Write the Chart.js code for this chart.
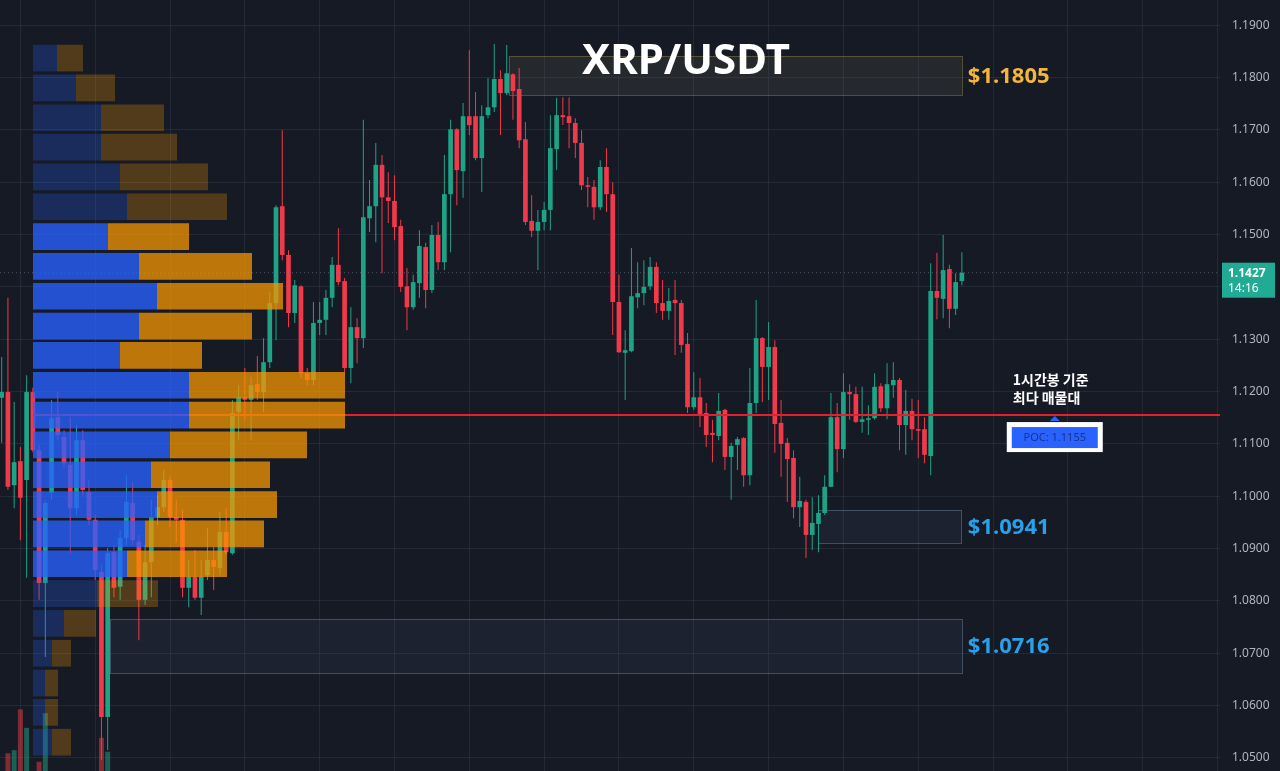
<!DOCTYPE html>
<html>
<head>
<meta charset="utf-8">
<script src="https://cdn.jsdelivr.net/npm/chart.js@4.4.1/dist/chart.umd.min.js"></script>
<style>
  html, body { margin: 0; padding: 0; background: #161a25; }
  #wrap { width: 1280px; height: 771px; }
</style>
</head>
<body>
<div id="wrap"><canvas id="myChart"></canvas></div>
<script>
// XRP/USDT 1h candles, oldest first
var opens = [
  1.1188, 1.1199, 1.1021, 1.1067, 1.1031, 1.1199, 1.1088, 1.0834, 1.1006, 1.1151,
  1.1113, 1.1060, 1.0977, 1.1107, 1.1008, 1.0955, 1.0855, 1.0578, 1.0893, 1.0827,
  1.0920, 1.0987, 1.0913, 1.0802, 1.0874, 1.0960, 1.0979, 1.1031, 1.0960, 1.0955,
  1.0825, 1.0846, 1.0806, 1.0849, 1.0878, 1.0863, 1.0932, 1.0891, 1.1161, 1.1189,
  1.1184, 1.1214, 1.1199, 1.1256, 1.1369, 1.1554, 1.1461, 1.1350, 1.1401, 1.1235,
  1.1222, 1.1331, 1.1337, 1.1379, 1.1442, 1.1411, 1.1245, 1.1323, 1.1302, 1.1531,
  1.1554, 1.1633, 1.1571, 1.1564, 1.1516, 1.1401, 1.1361, 1.1407, 1.1476, 1.1394,
  1.1499, 1.1447, 1.1577, 1.1701, 1.1621, 1.1726, 1.1726, 1.1646, 1.1728, 1.1743,
  1.1797, 1.1770, 1.1806, 1.1778, 1.1682, 1.1526, 1.1507, 1.1524, 1.1547, 1.1663,
  1.1728, 1.1726, 1.1713, 1.1675, 1.1594, 1.1591, 1.1552, 1.1629, 1.1577, 1.1371,
  1.1274, 1.1277, 1.1380, 1.1388, 1.1401, 1.1438, 1.1369, 1.1354, 1.1375, 1.1369,
  1.1291, 1.1170, 1.1189, 1.1159, 1.1121, 1.1115, 1.1165, 1.1075, 1.1098, 1.1111,
  1.1040, 1.1178, 1.1302, 1.1247, 1.1285, 1.1140, 1.1102, 1.1073, 1.0979, 1.0989,
  1.0926, 1.0947, 1.0968, 1.1018, 1.1151, 1.1090, 1.1199, 1.1195, 1.1142, 1.1146,
  1.1149, 1.1210, 1.1168, 1.1212, 1.1222, 1.1136, 1.1163, 1.1128, 1.1128, 1.1077,
  1.1392, 1.1377, 1.1434, 1.1358, 1.1411
];
var highs = [
  1.1266, 1.1379, 1.1180, 1.1094, 1.1231, 1.1207, 1.1098, 1.0993, 1.1184, 1.1199,
  1.1126, 1.1151, 1.1136, 1.1126, 1.1031, 1.0964, 1.0869, 1.0901, 1.0907, 1.0935,
  1.1040, 1.1027, 1.0926, 1.0907, 1.0993, 1.1002, 1.1050, 1.1039, 1.0993, 1.0974,
  1.0878, 1.0897, 1.0878, 1.0939, 1.0903, 1.0970, 1.0977, 1.1184, 1.1212, 1.1245,
  1.1228, 1.1268, 1.1302, 1.1390, 1.1556, 1.1699, 1.1470, 1.1413, 1.1403, 1.1245,
  1.1371, 1.1371, 1.1394, 1.1457, 1.1512, 1.1417, 1.1361, 1.1340, 1.1719, 1.1604,
  1.1675, 1.1652, 1.1619, 1.1613, 1.1528, 1.1436, 1.1423, 1.1508, 1.1484, 1.1518,
  1.1524, 1.1652, 1.1719, 1.1703, 1.1751, 1.1852, 1.1772, 1.1747, 1.1799, 1.1864,
  1.1814, 1.1862, 1.1808, 1.1818, 1.1715, 1.1575, 1.1547, 1.1562, 1.1728, 1.1761,
  1.1762, 1.1762, 1.1722, 1.1699, 1.1610, 1.1604, 1.1642, 1.1665, 1.1600, 1.1423,
  1.1317, 1.1474, 1.1447, 1.1451, 1.1457, 1.1447, 1.1413, 1.1398, 1.1413, 1.1375,
  1.1312, 1.1237, 1.1226, 1.1178, 1.1146, 1.1197, 1.1167, 1.1102, 1.1113, 1.1113,
  1.1245, 1.1375, 1.1304, 1.1333, 1.1298, 1.1184, 1.1111, 1.1088, 1.1037, 1.0993,
  1.0998, 1.1002, 1.1040, 1.1197, 1.1178, 1.1235, 1.1214, 1.1209, 1.1209, 1.1174,
  1.1235, 1.1216, 1.1254, 1.1256, 1.1226, 1.1203, 1.1186, 1.1184, 1.1151, 1.1445,
  1.1465, 1.1499, 1.1442, 1.1426, 1.1466
];
var lows = [
  1.1102, 1.1012, 1.0977, 1.0916, 1.0844, 1.1084, 1.0802, 1.0693, 1.0993, 1.1107,
  1.1054, 1.0891, 1.0964, 1.1002, 1.0945, 1.0840, 1.0496, 1.0515, 1.0807, 1.0802,
  1.0907, 1.0907, 1.0725, 1.0792, 1.0807, 1.0945, 1.0970, 1.0941, 1.0911, 1.0807,
  1.0788, 1.0802, 1.0773, 1.0840, 1.0821, 1.0849, 1.0888, 1.0888, 1.1107, 1.1146,
  1.1107, 1.1184, 1.1161, 1.1245, 1.1298, 1.1451, 1.1323, 1.1331, 1.1226, 1.1212,
  1.1212, 1.1308, 1.1308, 1.1361, 1.1403, 1.1237, 1.1216, 1.1254, 1.1283, 1.1505,
  1.1485, 1.1426, 1.1522, 1.1489, 1.1390, 1.1317, 1.1356, 1.1379, 1.1359, 1.1388,
  1.1432, 1.1432, 1.1466, 1.1556, 1.1570, 1.1690, 1.1642, 1.1581, 1.1722, 1.1734,
  1.1690, 1.1766, 1.1719, 1.1665, 1.1518, 1.1495, 1.1432, 1.1508, 1.1508, 1.1623,
  1.1709, 1.1665, 1.1646, 1.1585, 1.1552, 1.1528, 1.1547, 1.1543, 1.1308, 1.1274,
  1.1184, 1.1275, 1.1359, 1.1365, 1.1394, 1.1350, 1.1337, 1.1337, 1.1270, 1.1274,
  1.1159, 1.1165, 1.1132, 1.1094, 1.1065, 1.1107, 1.1050, 1.0993, 1.1050, 1.1018,
  1.1021, 1.1159, 1.1180, 1.1184, 1.1083, 1.1037, 1.0989, 1.0958, 1.0941, 1.0882,
  1.0897, 1.0893, 1.0964, 1.1018, 1.1046, 1.1073, 1.1146, 1.1140, 1.1121, 1.1117,
  1.1146, 1.1161, 1.1147, 1.1188, 1.1088, 1.1079, 1.1107, 1.1073, 1.1063, 1.1040,
  1.1338, 1.1340, 1.1321, 1.1346, 1.1403
];
var closes = [
  1.1199, 1.1018, 1.1065, 1.0997, 1.1199, 1.1088, 1.0834, 1.0987, 1.1149, 1.1117,
  1.1063, 1.0977, 1.1107, 1.1012, 1.0955, 1.0859, 1.0578, 1.0891, 1.0825, 1.0920,
  1.0989, 1.0916, 1.0802, 1.0874, 1.0960, 1.0979, 1.1031, 1.0960, 1.0955, 1.0825,
  1.0846, 1.0806, 1.0846, 1.0878, 1.0865, 1.0932, 1.0893, 1.1159, 1.1189, 1.1184,
  1.1212, 1.1199, 1.1256, 1.1369, 1.1552, 1.1461, 1.1350, 1.1403, 1.1235, 1.1222,
  1.1331, 1.1337, 1.1379, 1.1442, 1.1409, 1.1245, 1.1323, 1.1302, 1.1533, 1.1554,
  1.1633, 1.1571, 1.1564, 1.1514, 1.1400, 1.1361, 1.1409, 1.1478, 1.1394, 1.1499,
  1.1447, 1.1577, 1.1701, 1.1623, 1.1726, 1.1709, 1.1646, 1.1726, 1.1743, 1.1797,
  1.1770, 1.1808, 1.1774, 1.1680, 1.1524, 1.1507, 1.1524, 1.1547, 1.1665, 1.1728,
  1.1724, 1.1713, 1.1675, 1.1594, 1.1591, 1.1552, 1.1629, 1.1577, 1.1371, 1.1275,
  1.1279, 1.1382, 1.1388, 1.1400, 1.1438, 1.1369, 1.1354, 1.1373, 1.1369, 1.1289,
  1.1170, 1.1189, 1.1157, 1.1117, 1.1117, 1.1163, 1.1075, 1.1096, 1.1109, 1.1040,
  1.1178, 1.1302, 1.1247, 1.1285, 1.1138, 1.1100, 1.1071, 1.0979, 1.0991, 1.0926,
  1.0949, 1.0968, 1.1018, 1.1151, 1.1090, 1.1199, 1.1195, 1.1142, 1.1147, 1.1149,
  1.1209, 1.1168, 1.1214, 1.1222, 1.1136, 1.1163, 1.1128, 1.1125, 1.1079, 1.1392,
  1.1379, 1.1432, 1.1358, 1.1409, 1.1427
];
// only the tallest volume bars reach into view
var volumes = [null, 2.3, 2.7, 8.0, 5.6, null, 1.2, 7.5, null, null,
               null, null, null, null, null, null, 4.3, 2.5];

// volume profile (anchored at candle 5)
var profileLevels = [1.1837, 1.1780, 1.1723, 1.1667, 1.1610, 1.1553, 1.1496, 1.1439, 1.1382, 1.1325,
                     1.1269, 1.1212, 1.1155, 1.1098, 1.1041, 1.0984, 1.0928, 1.0871, 1.0814, 1.0757,
                     1.0700, 1.0643, 1.0587, 1.0530];
var profileBuy  = [12, 21.5, 34, 34, 43.5, 47, 37.5, 53, 62, 53, 43.5, 78, 78, 68.5, 59, 62, 56, 47, 32, 15.5, 9.5, 6, 6, 9.5];
var profileSell = [13, 19.5, 31.5, 38, 44, 50, 40.5, 56.5, 63, 56.5, 41, 78, 78, 68.5, 59.5, 60, 59.5, 50, 30.5, 16, 9.5, 6.5, 6.5, 9.5];
var valueAreaHigh = 1.1496;
var valueAreaLow = 1.0871;
var pocPrice = 1.1155;
var profileStart = 5;

var yTicks = [1.05, 1.06, 1.07, 1.08, 1.09, 1.10, 1.11, 1.12, 1.13, 1.14, 1.15, 1.16, 1.17, 1.18, 1.19];

var zoneFrom   = [81.3, 131, 17.4];
var zoneTo     = [154, 154, 154];
var zoneTop    = [1.1841, 1.0974, 1.0765];
var zoneBottom = [1.1766, 1.0911, 1.0662];
var zoneLabels = ['$1.1805', '$1.0941', '$1.0716'];

var lastTime = '14:16';
var xMin = -0.27, xMax = 195.4;

var upColor = '#1fa386', downColor = '#f0394a';
var candleColors = opens.map(function (o, i) { return closes[i] >= o ? upColor : downColor; });
var volColors = opens.map(function (o, i) { return closes[i] >= o ? 'rgba(31,163,134,0.5)' : 'rgba(240,57,74,0.5)'; });

var bodies = opens.map(function (o, i) { return { x: i, y: [o, closes[i]] }; });
var wicks = opens.map(function (o, i) { return { x: i, y: [lows[i], highs[i]] }; });
var volData = [];
volumes.forEach(function (v, i) { if (v !== null) volData.push({ x: i, y: v }); });

function inValueArea(p) { return p <= valueAreaHigh + 1e-9 && p >= valueAreaLow - 1e-9; }
var buyColors = profileLevels.map(function (p) { return inValueArea(p) ? 'rgba(41,98,255,0.78)' : 'rgba(41,98,255,0.25)'; });
var sellColors = profileLevels.map(function (p) { return inValueArea(p) ? 'rgba(245,150,0,0.75)' : 'rgba(245,150,0,0.27)'; });

var lastClose = closes[closes.length - 1];

var gridColor = 'rgba(54,60,78,0.45)';

var overlay = {
  id: 'overlay',
  beforeDraw: function (chart) {
    var ctx = chart.ctx;
    ctx.save();
    ctx.fillStyle = '#161a25';
    ctx.fillRect(0, 0, chart.width, chart.height);
    ctx.restore();
  },
  beforeDatasetsDraw: function (chart) {
    var ctx = chart.ctx, xs = chart.scales.x, ys = chart.scales.y;
    var fills = ['rgba(100,100,80,0.2)', 'rgba(70,100,130,0.12)', 'rgba(70,100,130,0.12)'];
    var lines = ['rgba(140,130,70,0.5)', 'rgba(90,115,140,0.6)', 'rgba(90,115,140,0.6)'];
    ctx.save();
    for (var k = 0; k < zoneFrom.length; k++) {
      var x0 = xs.getPixelForValue(zoneFrom[k]), x1 = xs.getPixelForValue(zoneTo[k]);
      var y0 = ys.getPixelForValue(zoneTop[k]), y1 = ys.getPixelForValue(zoneBottom[k]);
      ctx.fillStyle = fills[k];
      ctx.fillRect(x0, y0, x1 - x0, y1 - y0);
      ctx.strokeStyle = lines[k];
      ctx.lineWidth = 1;
      ctx.strokeRect(Math.round(x0) + 0.5, Math.round(y0) + 0.5, Math.round(x1 - x0), Math.round(y1 - y0));
    }
    ctx.restore();
  },
  afterDraw: function (chart) {
    var ctx = chart.ctx, xs = chart.scales.x, ys = chart.scales.y, area = chart.chartArea;
    ctx.save();
    // zone prices
    var cols = ['#f2b63c', '#2aa0e8', '#2aa0e8'];
    ctx.font = 'bold 22px "Noto Sans"';
    ctx.textBaseline = 'middle';
    ctx.textAlign = 'left';
    for (var k = 0; k < zoneLabels.length; k++) {
      ctx.fillStyle = cols[k];
      ctx.fillText(zoneLabels[k], xs.getPixelForValue(zoneTo[k]) + 6, ys.getPixelForValue((zoneTop[k] + zoneBottom[k]) / 2) + 1);
    }
    // title
    ctx.fillStyle = '#ffffff';
    ctx.font = 'bold 42px "Noto Sans"';
    ctx.textAlign = 'center';
    ctx.fillText('XRP/USDT', 686, 62);

    // POC note
    var pocY = ys.getPixelForValue(pocPrice);
    var cx = xs.getPixelForValue(168.9);
    ctx.font = 'bold 14px "Noto Sans CJK KR"';
    ctx.textAlign = 'left';
    ctx.fillText('1시간봉 기준', cx - 42, pocY - 35);
    ctx.fillText('최다 매물대', cx - 42, pocY - 17);
    ctx.fillStyle = '#2962ff';
    ctx.beginPath();
    ctx.moveTo(cx, pocY + 1);
    ctx.lineTo(cx + 5, pocY + 6);
    ctx.lineTo(cx - 5, pocY + 6);
    ctx.closePath();
    ctx.fill();
    ctx.fillStyle = '#ffffff';
    ctx.fillRect(cx - 48, pocY + 7, 96, 30);
    ctx.fillStyle = '#2962ff';
    ctx.fillRect(cx - 43, pocY + 12, 86, 21);
    ctx.fillStyle = '#18348c';
    ctx.font = '11px "Noto Sans"';
    ctx.textAlign = 'center';
    ctx.fillText('POC: ' + pocPrice.toFixed(4), cx, pocY + 23);

    // last price tag
    var ly = ys.getPixelForValue(lastClose);
    ctx.fillStyle = '#22ab94';
    ctx.fillRect(area.right + 2, ly - 10, 53, 35);
    ctx.fillStyle = '#ffffff';
    ctx.textAlign = 'left';
    ctx.font = 'bold 12px "Noto Sans"';
    ctx.fillText(lastClose.toFixed(4), area.right + 8, ly + 1);
    ctx.font = '12px "Noto Sans"';
    ctx.fillText(lastTime, area.right + 8, ly + 16);
    ctx.restore();
  }
};

var data = {
  datasets: [
    {
      type: 'bar', label: 'profile buy', indexAxis: 'y', xAxisID: 'xp', yAxisID: 'yp',
      data: profileLevels.map(function (p, k) { return { x: [0, profileBuy[k]], y: p }; }),
      backgroundColor: buyColors, grouped: false, barPercentage: 0.91, categoryPercentage: 1, order: 1
    },
    {
      type: 'bar', label: 'profile sell', indexAxis: 'y', xAxisID: 'xp', yAxisID: 'yp',
      data: profileLevels.map(function (p, k) { return { x: [profileBuy[k], profileBuy[k] + profileSell[k]], y: p }; }),
      backgroundColor: sellColors, grouped: false, barPercentage: 0.91, categoryPercentage: 1, order: 1
    },
    {
      type: 'line', label: 'POC', xAxisID: 'x', yAxisID: 'y',
      data: [{ x: profileStart, y: pocPrice }, { x: xMax, y: pocPrice }],
      borderColor: '#e3202b', borderWidth: 2, pointRadius: 0, order: 2
    },
    {
      type: 'line', label: 'last', xAxisID: 'x', yAxisID: 'y',
      data: [{ x: xMin, y: lastClose }, { x: xMax, y: lastClose }],
      borderColor: 'rgba(120,128,150,0.55)', borderWidth: 1, borderDash: [1, 3], pointRadius: 0, order: 2
    },
    {
      type: 'bar', label: 'body', xAxisID: 'x', yAxisID: 'y', data: bodies,
      backgroundColor: candleColors, grouped: false, barPercentage: 0.75, categoryPercentage: 1,
      minBarLength: 1, order: 3
    },
    {
      type: 'bar', label: 'wick', xAxisID: 'x', yAxisID: 'y', data: wicks,
      backgroundColor: candleColors, grouped: false, barPercentage: 0.2, categoryPercentage: 1,
      maxBarThickness: 1, order: 4
    },
    {
      type: 'bar', label: 'volume', xAxisID: 'x', yAxisID: 'yv', data: volData,
      backgroundColor: volData.map(function (d) { return volColors[d.x]; }),
      grouped: false, barPercentage: 0.8, categoryPercentage: 1, order: 5
    }
  ]
};

var config = {
  type: 'bar',
  data: data,
  plugins: [overlay],
  options: {
    responsive: true,
    maintainAspectRatio: false,
    animation: false,
    events: [],
    layout: { padding: 0 },
    plugins: {
      legend: { display: false },
      tooltip: { enabled: false }
    },
    scales: {
      x: {
        type: 'linear', min: xMin, max: xMax, offset: false,
        grid: { color: gridColor, drawTicks: false, offset: false },
        border: { display: false },
        ticks: { display: false },
        afterBuildTicks: function (scale) {
          var t = [];
          for (var v = 3; v <= scale.max; v += 12) t.push({ value: v });
          scale.ticks = t;
        },
        afterFit: function (scale) { scale.height = 0; scale.paddingLeft = 0; scale.paddingRight = 0; }
      },
      y: {
        type: 'linear', position: 'right', min: 1.0475, max: 1.1948, offset: false,
        grid: { color: gridColor, drawTicks: false, offset: false },
        border: { display: false },
        ticks: {
          color: '#b2b5be', padding: 12,
          font: { family: '"Noto Sans"', size: 12 },
          callback: function (v) { return Number(v).toFixed(4); }
        },
        afterBuildTicks: function (scale) {
          scale.ticks = yTicks.map(function (v) { return { value: v }; });
        },
        afterFit: function (scale) { scale.width = 60; scale.paddingTop = 0; scale.paddingBottom = 0; }
      },
      yv: { type: 'linear', display: false, min: 0, max: 100, offset: false },
      yp: { type: 'linear', display: false, min: 1.0475, max: 1.1948, offset: false, grid: { offset: false } },
      xp: { type: 'linear', display: false, min: -16.5, max: 593.5, offset: false }
    }
  }
};

var myChart = new Chart(
  document.getElementById('myChart'),
  config
);
</script>
</body>
</html>
